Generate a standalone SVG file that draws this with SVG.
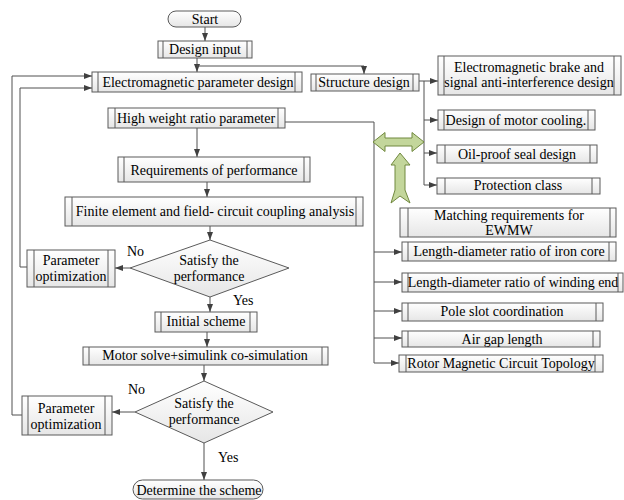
<svg xmlns="http://www.w3.org/2000/svg" width="624" height="500" viewBox="0 0 624 500" font-family="'Liberation Serif', 'Times New Roman', 'DejaVu Serif', serif">
<defs>
<linearGradient id="g" x1="0" y1="0" x2="0" y2="1">
<stop offset="0" stop-color="#ffffff"/>
<stop offset="1" stop-color="#e6e6e6"/>
</linearGradient>
<marker id="a" viewBox="0 0 8 6" refX="8" refY="3" markerWidth="8" markerHeight="6" markerUnits="userSpaceOnUse" orient="auto">
<path d="M0,0 L8,3 L0,6 Z" fill="#404040"/>
</marker>
</defs>
<style>
.b{fill:url(#g);stroke:#5a5a5a;stroke-width:1}
.i{stroke:#5a5a5a;stroke-width:1;fill:none}
.t{font-family:'Liberation Serif','Times New Roman','DejaVu Serif',serif;font-size:14px;fill:#000;text-anchor:middle}
.l{font-family:'Liberation Serif','Times New Roman','DejaVu Serif',serif;font-size:14px;fill:#000}
.c{stroke:#505050;stroke-width:1;fill:none}
.ca{stroke:#505050;stroke-width:1;fill:none;marker-end:url(#a)}
.gr{fill:#c3d69b;stroke:#71893f;stroke-width:1}
</style>
<rect width="624" height="500" fill="#ffffff"/>

<g id="connectors">
<line class="ca" x1="205" y1="27" x2="205" y2="41"/>
<line class="ca" x1="197" y1="58" x2="197" y2="72"/>
<polyline class="ca" points="197,66 364,66 364,74"/>
<line class="ca" x1="419" y1="81" x2="438" y2="81"/>
<line class="c" x1="424" y1="81" x2="424" y2="185"/>
<line class="ca" x1="424" y1="120" x2="438" y2="120"/>
<line class="ca" x1="424" y1="153" x2="437" y2="153"/>
<line class="ca" x1="424" y1="185" x2="437" y2="185"/>
<polyline class="c" points="285,122 374,122 374,363"/>
<line class="ca" x1="374" y1="252" x2="402" y2="252"/>
<line class="ca" x1="374" y1="282" x2="402" y2="282"/>
<line class="ca" x1="374" y1="311" x2="402" y2="311"/>
<line class="ca" x1="374" y1="338" x2="402" y2="338"/>
<line class="ca" x1="374" y1="363" x2="399" y2="363"/>
<line class="ca" x1="197" y1="128" x2="197" y2="157"/>
<line class="ca" x1="207" y1="182" x2="207" y2="197"/>
<line class="ca" x1="210" y1="226" x2="210" y2="240"/>
<line class="ca" x1="130" y1="268" x2="115" y2="268"/>
<polyline class="ca" points="27,267 20,267 20,88 92,88"/>
<line class="ca" x1="210" y1="297" x2="210" y2="312"/>
<line class="ca" x1="207" y1="332" x2="207" y2="347"/>
<line class="ca" x1="204" y1="365" x2="204" y2="381"/>
<line class="ca" x1="135" y1="412" x2="112" y2="412"/>
<polyline class="ca" points="22,415 12,415 12,76 92,76"/>
<line class="ca" x1="204" y1="443" x2="204" y2="480"/>
<path class="gr" d="M373,142 L385,132.5 L385,138 L412,138 L412,132.5 L424,142 L412,151.5 L412,146 L385,146 L385,151.5 Z"/>
<path class="gr" d="M400,153 L410,165 L405,165 L405,190 L410,203 L400,196 L391,203 L395,190 L395,165 L391,165 Z"/>
<text class="l" x="127" y="256">No</text>
<text class="l" x="233" y="305">Yes</text>
<text class="l" x="128" y="394">No</text>
<text class="l" x="218" y="462">Yes</text>
</g>

<g id="start">
<rect class="b" x="168" y="11" width="73" height="16" rx="8"/>
<text class="t" x="205" y="24">Start</text>
</g>
<g id="design-input">
<rect class="b" x="158" y="41" width="94" height="17"/>
<path class="i" d="M163,41 V58 M247,41 V58"/>
<text class="t" x="205" y="54">Design input</text>
</g>
<g id="em-param">
<rect class="b" x="92" y="72" width="210" height="20"/>
<path class="i" d="M98,72 V92 M295,72 V92"/>
<text class="t" x="198" y="87">Electromagnetic parameter design</text>
</g>
<g id="structure">
<rect class="b" x="311" y="74" width="108" height="17"/>
<path class="i" d="M316,74 V91 M413,74 V91"/>
<text class="t" x="364" y="87">Structure design</text>
</g>
<g id="em-brake">
<rect class="b" x="438" y="56" width="183" height="39"/>
<path class="i" d="M444,56 V95 M614,56 V95"/>
<text class="t" x="529" y="72">Electromagnetic brake and</text>
<text class="t" x="529" y="87">signal anti-interference design</text>
</g>
<g id="cooling">
<rect class="b" x="438" y="110" width="157" height="20"/>
<path class="i" d="M444,110 V130 M588,110 V130"/>
<text class="t" x="516" y="125">Design of motor cooling.</text>
</g>
<g id="oil-seal">
<rect class="b" x="437" y="145" width="160" height="18"/>
<path class="i" d="M445,145 V163 M590,145 V163"/>
<text class="t" x="517" y="159">Oil-proof seal design</text>
</g>
<g id="protection">
<rect class="b" x="437" y="178" width="163" height="16"/>
<path class="i" d="M445,178 V194 M592,178 V194"/>
<text class="t" x="518" y="190">Protection class</text>
</g>
<g id="high-weight">
<rect class="b" x="108" y="108" width="177" height="20"/>
<path class="i" d="M115,108 V128 M278,108 V128"/>
<text class="t" x="196" y="123">High weight ratio parameter</text>
</g>
<g id="matching">
<rect class="b" x="400" y="208" width="216" height="29"/>
<path class="i" d="M408,208 V237 M610,208 V237"/>
<text class="t" x="509" y="220">Matching requirements for</text>
<text class="t" x="509" y="235">EWMW</text>
</g>
<g id="iron-core">
<rect class="b" x="402" y="242" width="214" height="19"/>
<path class="i" d="M408,242 V261 M609,242 V261"/>
<text class="t" x="509" y="256">Length-diameter ratio of iron core</text>
</g>
<g id="winding-end">
<rect class="b" x="402" y="273" width="221" height="19"/>
<path class="i" d="M408,273 V292 M618,273 V292"/>
<text class="t" x="513" y="287">Length-diameter ratio of winding end</text>
</g>
<g id="pole-slot">
<rect class="b" x="402" y="303" width="201" height="18"/>
<path class="i" d="M408,303 V321 M596,303 V321"/>
<text class="t" x="502" y="316">Pole slot coordination</text>
</g>
<g id="air-gap">
<rect class="b" x="402" y="331" width="198" height="16"/>
<path class="i" d="M408,331 V347 M593,331 V347"/>
<text class="t" x="502" y="344">Air gap length</text>
</g>
<g id="rotor">
<rect class="b" x="399" y="355" width="204" height="17"/>
<path class="i" d="M406,355 V372 M595,355 V372"/>
<text class="t" x="501" y="368">Rotor Magnetic Circuit Topology</text>
</g>
<g id="requirements">
<rect class="b" x="118" y="157" width="192" height="25"/>
<path class="i" d="M124,157 V182 M304,157 V182"/>
<text class="t" x="214" y="175">Requirements of performance</text>
</g>
<g id="finite-element">
<rect class="b" x="65" y="197" width="298" height="29"/>
<path class="i" d="M72,197 V226 M356,197 V226"/>
<text class="t" x="215" y="216">Finite element and field- circuit coupling analysis</text>
</g>
<g id="decision1">
<polygon class="b" points="210,240 289,268 210,297 130,268"/>
<text class="t" x="209" y="265">Satisfy the</text>
<text class="t" x="209" y="281">performance</text>
</g>
<g id="param-opt1">
<rect class="b" x="27" y="250" width="88" height="37"/>
<path class="i" d="M34,250 V287 M108,250 V287"/>
<text class="t" x="71" y="265">Parameter</text>
<text class="t" x="71" y="281">optimization</text>
</g>
<g id="initial-scheme">
<rect class="b" x="155" y="312" width="102" height="20"/>
<path class="i" d="M161,312 V332 M250,312 V332"/>
<text class="t" x="206" y="326">Initial scheme</text>
</g>
<g id="motor-solve">
<rect class="b" x="83" y="347" width="245" height="18"/>
<path class="i" d="M89,347 V365 M322,347 V365"/>
<text class="t" x="205" y="360">Motor solve+simulink co-simulation</text>
</g>
<g id="decision2">
<polygon class="b" points="204,381 273,412 204,443 135,412"/>
<text class="t" x="204" y="408">Satisfy the</text>
<text class="t" x="204" y="424">performance</text>
</g>
<g id="param-opt2">
<rect class="b" x="22" y="396" width="90" height="39"/>
<path class="i" d="M28,396 V435 M105,396 V435"/>
<text class="t" x="66" y="413">Parameter</text>
<text class="t" x="66" y="429">optimization</text>
</g>
<g id="determine">
<rect class="b" x="133" y="480" width="130" height="19" rx="9.5"/>
<text class="t" x="199" y="495">Determine the scheme</text>
</g>
</svg>
